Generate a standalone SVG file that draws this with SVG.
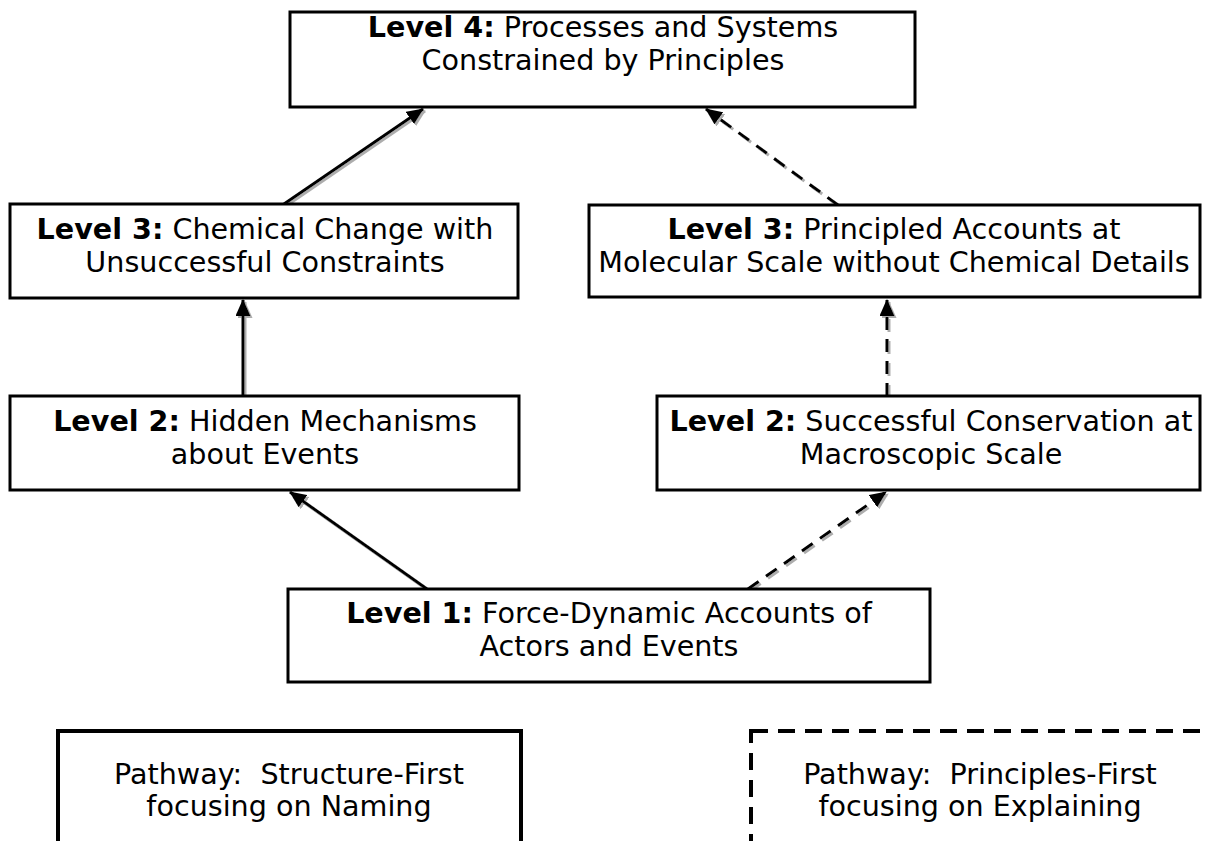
<svg xmlns="http://www.w3.org/2000/svg" width="1206" height="841" viewBox="0 0 1206 841">
<style>
.box{fill:#fff;stroke:#000;stroke-width:3}
.pbox{fill:#fff;stroke:#000;stroke-width:4}
.dbox{fill:#fff;stroke:#000;stroke-width:4;stroke-dasharray:17 10}
.t{font-family:"DejaVu Sans",Verdana,sans-serif;font-size:28.6px;fill:#000;text-anchor:middle}
.b{font-weight:bold}
.c{stroke:#000;stroke-width:3;fill:none}
.d{stroke-dasharray:13 9}
</style>
<defs>
<marker id="ah" markerUnits="userSpaceOnUse" markerWidth="17" markerHeight="15" refX="16" refY="7.5" orient="auto">
<path d="M0,0 L17,7.5 L0,15 z" fill="#000"/>
</marker>
<filter id="sh" x="-10%" y="-10%" width="120%" height="120%">
<feDropShadow dx="2" dy="2" stdDeviation="0.6" flood-color="#999" flood-opacity="0.8"/>
</filter>
<clipPath id="clipBottom"><rect x="0" y="0" width="1206" height="822"/></clipPath>
</defs>
<rect width="1206" height="841" fill="#fff"/>

<g id="connectors" filter="url(#sh)">
<line class="c" x1="284" y1="204" x2="423" y2="109" marker-end="url(#ah)"/>
<line class="c d" x1="838" y1="205" x2="706" y2="109" marker-end="url(#ah)"/>
<line class="c" x1="243" y1="396" x2="243" y2="300" marker-end="url(#ah)"/>
<line class="c d" x1="887" y1="396" x2="887" y2="300" marker-end="url(#ah)"/>
<line class="c" x1="427" y1="589" x2="290" y2="492" marker-end="url(#ah)"/>
<line class="c d" x1="748" y1="589" x2="886" y2="492" marker-end="url(#ah)"/>
</g>

<g id="level4">
<rect class="box" x="290" y="12" width="625" height="95"/>
<text class="t" x="603" y="37"><tspan class="b">Level 4:</tspan> Processes and Systems</text>
<text class="t" x="603" y="70">Constrained by Principles</text>
</g>

<g id="level3-left">
<rect class="box" x="10" y="204" width="508" height="94"/>
<text class="t" x="265" y="239"><tspan class="b">Level 3:</tspan> Chemical Change with</text>
<text class="t" x="265" y="272">Unsuccessful Constraints</text>
</g>

<g id="level3-right">
<rect class="box" x="589" y="205" width="611" height="92"/>
<text class="t" x="894" y="239"><tspan class="b">Level 3:</tspan> Principled Accounts at</text>
<text class="t" x="894" y="272">Molecular Scale without Chemical Details</text>
</g>

<g id="level2-left">
<rect class="box" x="10" y="396" width="509" height="94"/>
<text class="t" x="265" y="431"><tspan class="b">Level 2:</tspan> Hidden Mechanisms</text>
<text class="t" x="265" y="464">about Events</text>
</g>

<g id="level2-right">
<rect class="box" x="657" y="396" width="543" height="94"/>
<text class="t" x="931" y="431"><tspan class="b">Level 2:</tspan> Successful Conservation at</text>
<text class="t" x="931" y="464">Macroscopic Scale</text>
</g>

<g id="level1">
<rect class="box" x="288" y="589" width="642" height="93"/>
<text class="t" x="609" y="623"><tspan class="b">Level 1:</tspan> Force-Dynamic Accounts of</text>
<text class="t" x="609" y="656">Actors and Events</text>
</g>

<g id="pathway-structure">
<rect class="pbox" x="58" y="731" width="463" height="140"/>
<g clip-path="url(#clipBottom)">
<text class="t" x="289" y="784" xml:space="preserve">Pathway:  Structure-First</text>
<text class="t" x="289" y="816">focusing on Naming</text>
</g>
</g>

<g id="pathway-principles">
<rect class="dbox" x="751" y="731" width="460" height="140"/>
<g clip-path="url(#clipBottom)">
<text class="t" x="980" y="784" xml:space="preserve">Pathway:  Principles-First</text>
<text class="t" x="980" y="816">focusing on Explaining</text>
</g>
</g>
</svg>
